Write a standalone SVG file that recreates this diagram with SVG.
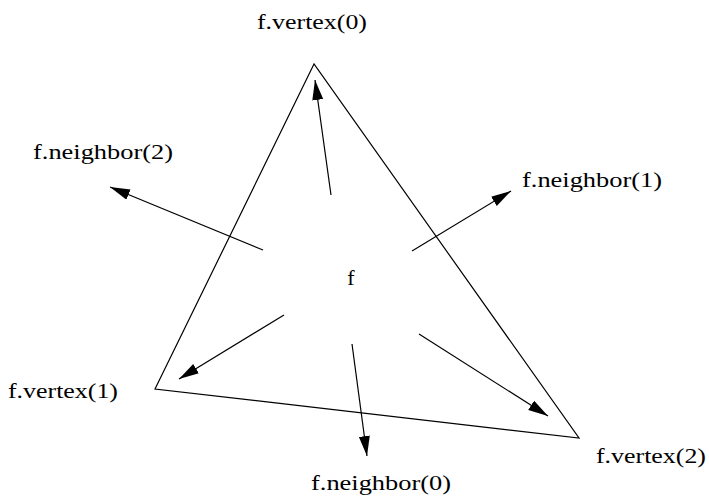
<svg xmlns="http://www.w3.org/2000/svg" width="709" height="502" viewBox="0 0 709 502">
<style>
.t{font-family:'Liberation Serif','Times New Roman',Times,serif;font-size:22px;fill:#000}
.e{stroke:#000;stroke-width:1.2;fill:none}
.a{stroke:#000;stroke-width:1.2;fill:none;marker-end:url(#ah)}
</style>
<defs>
<marker id="ah" markerUnits="userSpaceOnUse" markerWidth="22" markerHeight="12" refX="20" refY="5.5" orient="auto">
<path d="M0,0 L20,5.5 L0,11 Z" fill="#000"/>
</marker>
</defs>
<rect width="709" height="502" fill="#fff"/>
<g id="face">
<polygon class="e" points="314,64 155,389 579,438"/>
<text class="t" x="351" y="285" text-anchor="middle">f</text>
</g>
<g id="connectors">
<line class="a" x1="331" y1="195" x2="315" y2="80"/>
<line class="a" x1="263" y1="250" x2="110" y2="187"/>
<line class="a" x1="412" y1="251" x2="511" y2="191"/>
<line class="a" x1="284" y1="315" x2="179" y2="379"/>
<line class="a" x1="352" y1="344" x2="367" y2="456"/>
<line class="a" x1="419" y1="334" x2="548" y2="416"/>
</g>
<g id="vertex0"><text class="t" x="257" y="29" textLength="110" lengthAdjust="spacingAndGlyphs">f.vertex(0)</text></g>
<g id="neighbor2"><text class="t" x="33" y="159" textLength="140" lengthAdjust="spacingAndGlyphs">f.neighbor(2)</text></g>
<g id="neighbor1"><text class="t" x="522" y="187" textLength="140" lengthAdjust="spacingAndGlyphs">f.neighbor(1)</text></g>
<g id="vertex1"><text class="t" x="8" y="398" textLength="110" lengthAdjust="spacingAndGlyphs">f.vertex(1)</text></g>
<g id="neighbor0"><text class="t" x="311" y="490" textLength="140" lengthAdjust="spacingAndGlyphs">f.neighbor(0)</text></g>
<g id="vertex2"><text class="t" x="596" y="463" textLength="110" lengthAdjust="spacingAndGlyphs">f.vertex(2)</text></g>
</svg>
